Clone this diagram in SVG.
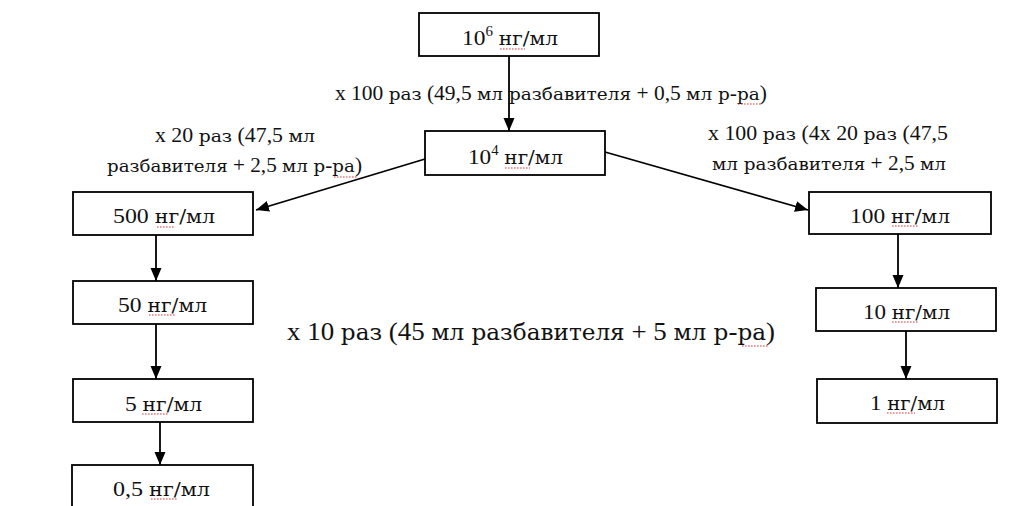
<svg xmlns="http://www.w3.org/2000/svg" width="1023" height="506" viewBox="0 0 1023 506">
<style>
.box{fill:#fff;stroke:#000;stroke-width:1.8}
text{font-family:"Liberation Serif","Times New Roman",serif;fill:#111}
.cy{font-family:"DejaVu Serif",serif;font-size:0.86em}
.t{font-size:22px}
.lbl{font-size:20px}
.big{font-size:26px}
.sup{font-size:14px}
.c{stroke:#000;stroke-width:1.8;fill:none;marker-end:url(#ah)}
.sq{stroke:#e23a3a;stroke-width:1.1;stroke-dasharray:1.6 1.4;fill:none}
</style>
<defs>
<marker id="ah" markerUnits="userSpaceOnUse" markerWidth="14" markerHeight="14" viewBox="0 0 14 14" refX="13" refY="7" orient="auto">
<path d="M0,1.5 L13,7 L0,12.5 Z" fill="#000"/>
</marker>
</defs>
<rect width="1023" height="506" fill="#fff"/>
<g id="connectors">
<line class="c" x1="509" y1="56" x2="509" y2="131"/>
<line class="c" x1="425" y1="159" x2="256" y2="210"/>
<line class="c" x1="605" y1="152" x2="808" y2="210"/>
<line class="c" x1="156" y1="235" x2="156" y2="281"/>
<line class="c" x1="156" y1="324" x2="156" y2="379"/>
<line class="c" x1="160" y1="422" x2="160" y2="465"/>
<line class="c" x1="898" y1="234" x2="898" y2="288"/>
<line class="c" x1="906" y1="331" x2="906" y2="379"/>
</g>
<g id="labels">
<text class="lbl" x="335" y="100" textLength="432" lengthAdjust="spacingAndGlyphs">x 100 <tspan class="cy">раз</tspan> (49,5 <tspan class="cy">мл разбавителя</tspan> + 0,5 <tspan class="cy">мл р</tspan>-<tspan class="cy">ра</tspan>)</text>
<text class="lbl" x="155" y="142" textLength="160" lengthAdjust="spacingAndGlyphs">x 20 <tspan class="cy">раз</tspan> (47,5 <tspan class="cy">мл</tspan></text>
<text class="lbl" x="107" y="172" textLength="255" lengthAdjust="spacingAndGlyphs"><tspan class="cy">разбавителя</tspan> + 2,5 <tspan class="cy">мл р</tspan>-<tspan class="cy">ра</tspan>)</text>
<text class="lbl" x="708" y="140" textLength="240" lengthAdjust="spacingAndGlyphs">x 100 <tspan class="cy">раз</tspan> (4x 20 <tspan class="cy">раз</tspan> (47,5</text>
<text class="lbl" x="712" y="170" textLength="234" lengthAdjust="spacingAndGlyphs"><tspan class="cy">мл разбавителя</tspan> + 2,5 <tspan class="cy">мл</tspan></text>
<text class="big" x="287" y="340" textLength="488" lengthAdjust="spacingAndGlyphs">x 10 <tspan class="cy">раз</tspan> (45 <tspan class="cy">мл разбавителя</tspan> + 5 <tspan class="cy">мл р</tspan>-<tspan class="cy">ра</tspan>)</text>
<path class="sq" d="M738,104 H762 M334,177 H357 M742,346 H768"/>
</g>
<g id="n1"><rect class="box" x="419" y="13" width="180" height="43"/><text class="t" x="462" y="45" textLength="96" lengthAdjust="spacingAndGlyphs">10<tspan class="sup" dy="-9">6</tspan><tspan dy="9"> </tspan><tspan class="cy">нг/мл</tspan></text><path class="sq" d="M500,49 H525"/></g>
<g id="n2"><rect class="box" x="425" y="131" width="180" height="44"/><text class="t" x="468" y="164" textLength="95" lengthAdjust="spacingAndGlyphs">10<tspan class="sup" dy="-9">4</tspan><tspan dy="9"> </tspan><tspan class="cy">нг/мл</tspan></text><path class="sq" d="M505,168 H530"/></g>
<g id="n3"><rect class="box" x="73" y="192" width="180" height="43"/><text class="t" x="113" y="223" textLength="102" lengthAdjust="spacingAndGlyphs">500 <tspan class="cy">нг/мл</tspan></text><path class="sq" d="M157,227 H175"/></g>
<g id="n4"><rect class="box" x="73" y="281" width="180" height="43"/><text class="t" x="118" y="312" textLength="89" lengthAdjust="spacingAndGlyphs">50 <tspan class="cy">нг/мл</tspan></text><path class="sq" d="M149,315 H175"/></g>
<g id="n5"><rect class="box" x="73" y="379" width="180" height="43"/><text class="t" x="125" y="411" textLength="77" lengthAdjust="spacingAndGlyphs">5 <tspan class="cy">нг/мл</tspan></text><path class="sq" d="M142,414 H168"/></g>
<g id="n6"><rect class="box" x="72" y="465" width="181" height="60"/><text class="t" x="113" y="496" textLength="97" lengthAdjust="spacingAndGlyphs">0,5 <tspan class="cy">нг/мл</tspan></text><path class="sq" d="M151,499 H177"/></g>
<g id="n7"><rect class="box" x="809" y="192" width="182" height="42"/><text class="t" x="850" y="223" textLength="100" lengthAdjust="spacingAndGlyphs">100 <tspan class="cy">нг/мл</tspan></text><path class="sq" d="M892,226 H918"/></g>
<g id="n8"><rect class="box" x="816" y="288" width="180" height="43"/><text class="t" x="863" y="319" textLength="87" lengthAdjust="spacingAndGlyphs">10 <tspan class="cy">нг/мл</tspan></text><path class="sq" d="M892,322 H918"/></g>
<g id="n9"><rect class="box" x="817" y="379" width="180" height="44"/><text class="t" x="870" y="410" textLength="75" lengthAdjust="spacingAndGlyphs">1 <tspan class="cy">нг/мл</tspan></text><path class="sq" d="M887,413 H915"/></g>
</svg>
